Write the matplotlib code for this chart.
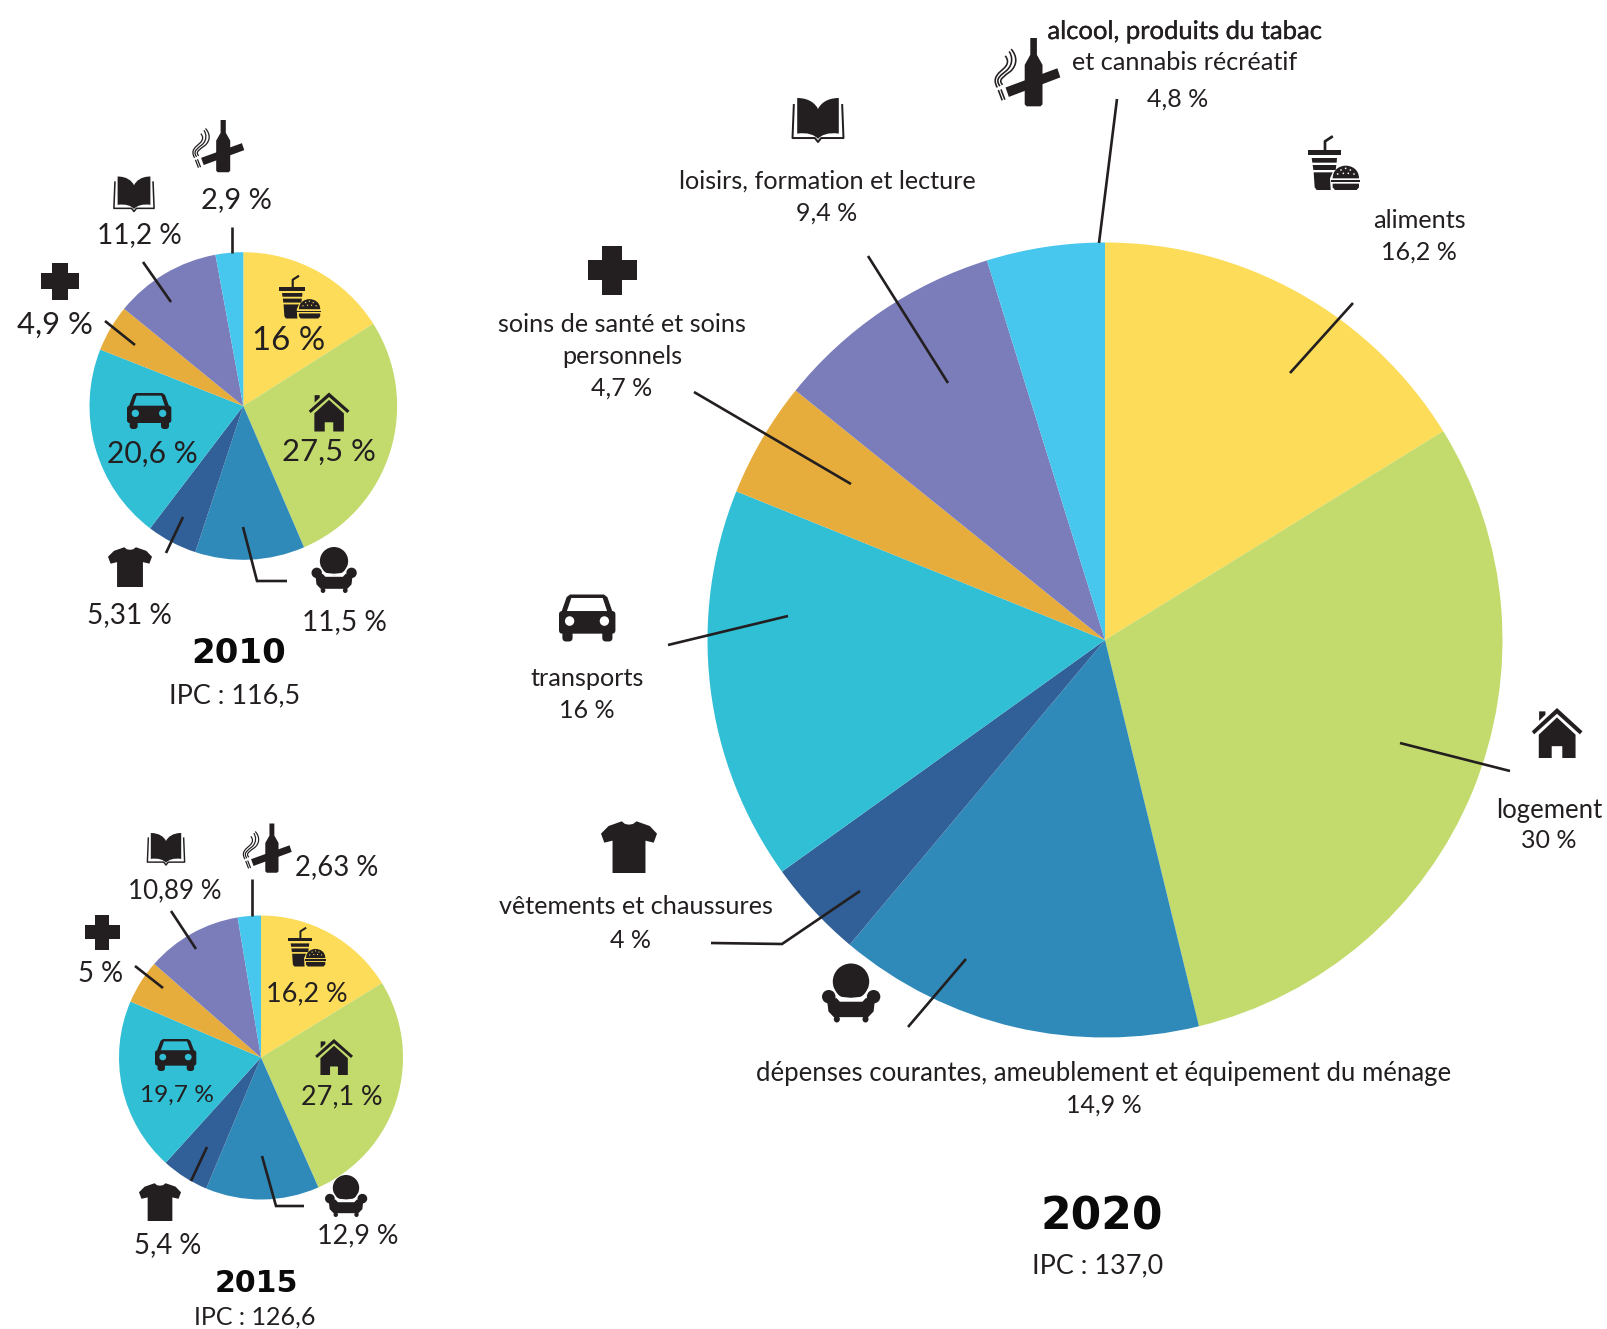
"""Budget shares of the Canadian CPI basket for 2010, 2015 and 2020, as three pies."""

import matplotlib
matplotlib.use("Agg")
import matplotlib.pyplot as plt
from matplotlib.patches import Ellipse, FancyBboxPatch, PathPatch, Polygon
from matplotlib.path import Path
import matplotlib.patheffects as pe

W, H = 1607, 1329
INK = "#231f20"
FONT = "Lato"

COLORS = ["#FCDC58", "#C2DB6C", "#2F8ABA", "#306097", "#31BFD5", "#E7AD3C", "#7B7DBA", "#47C6EE"]

VALUES_2010 = [16, 27.5, 11.5, 5.31, 20.6, 4.9, 11.2, 2.9]
VALUES_2015 = [16.2, 27.1, 12.9, 5.4, 19.7, 5, 10.89, 2.63]
VALUES_2020 = [16.2, 30, 14.9, 4, 16, 4.7, 9.4, 4.8]

IPC_2010 = "IPC : 116,5"
IPC_2015 = "IPC : 126,6"
IPC_2020 = "IPC : 137,0"

NAMES_2020 = [
    ["aliments"],
    ["logement"],
    ["dépenses courantes, ameublement et équipement du ménage"],
    ["vêtements et chaussures"],
    ["transports"],
    ["soins de santé et soins", "personnels"],
    ["loisirs, formation et lecture"],
    ["alcool, produits du tabac", "et cannabis récréatif"],
]


def pct(v):
    return f"{v:g} %".replace(".", ",")


def draw_pie(fig, cx, cy, r, values):
    ax = fig.add_axes([(cx - r) / W, 1 - (cy + r) / H, 2 * r / W, 2 * r / H])
    ax.pie(values, colors=COLORS, startangle=90, counterclock=False, radius=1,
           wedgeprops={"linewidth": 0})
    ax.set_xlim(-1, 1)
    ax.set_ylim(-1, 1)
    ax.set_aspect("auto")
    ax.axis("off")


def label(ax, x, y, s, px, **kw):
    kw.setdefault("color", INK)
    kw.setdefault("family", FONT)
    return ax.text(x, y, s, fontsize=px * 0.72, ha="center", va="center_baseline", **kw)


def year(ax, x, y, s, px):
    ax.text(x, y, s, fontsize=px * 0.72, ha="center", va="center_baseline",
            family="DejaVu Sans", fontweight="bold", color="#0a0a0a")


def leader(ax, xs, ys):
    ax.plot(xs, ys, color=INK, lw=1.9, solid_capstyle="butt", solid_joinstyle="miter", zorder=3)


def mapper(sx, sy, shw, shh, cx, cy, hw, hh):
    """Map icon drawing units onto the page box centred on cx, cy."""
    def m(pts):
        return [(cx + (x - sx) / shw * hw, cy + (y - sy) / shh * hh) for x, y in pts]
    return m


def poly(ax, pts, color=INK):
    ax.add_patch(Polygon(pts, closed=True, fc=color, ec="none", zorder=4))


def curve(ax, pts, codes, fc=INK, ec="none", lw=0):
    ax.add_patch(PathPatch(Path(pts, codes), fc=fc, ec=ec, lw=lw, zorder=4, capstyle="butt"))


def icon_cross(ax, cx, cy, hw, hh):
    a = 0.41
    m = mapper(0, 0, 1, 1, cx, cy, hw, hh)
    poly(ax, m([(-a, -1), (a, -1), (a, -a), (1, -a), (1, a), (a, a), (a, 1),
                (-a, 1), (-a, a), (-1, a), (-1, -a), (-a, -a)]))


def icon_shirt(ax, cx, cy, hw, hh):
    m = mapper(447, 200, 85, 78, cx, cy, hw, hh)
    poly(ax, m([(425, 123), (435, 131), (447, 133), (459, 131), (470, 123), (510, 137), (532, 160),
                (522, 187), (497, 181), (497, 278), (397, 278), (397, 181), (372, 187),
                (362, 160), (385, 137)]))


def icon_house(ax, cx, cy, hw, hh):
    m = mapper(231, 126, 77, 74, cx, cy, hw, hh)
    poly(ax, m([(155, 121), (231, 52), (308, 121), (300, 130), (231, 69), (162, 130)]))
    poly(ax, m([(177, 62), (196, 62), (196, 72), (177, 90)]))
    poly(ax, m([(176, 131), (231, 80), (287, 131), (287, 200), (247, 200), (247, 165),
                (215, 165), (215, 200), (176, 200)]))


def icon_car(ax, cx, cy, hw, hh, bg):
    m = mapper(176, 94, 66, 54, cx, cy, hw, hh)
    sx = hw / 66
    sy = hh / 54
    poly(ax, m([(136, 40), (216, 40), (224, 46), (238, 85), (114, 85), (128, 46)]))
    poly(ax, m([(139, 48), (213, 48), (224, 80), (128, 80)]), bg)
    (x0, y0), = m([(110, 78)])
    ax.add_patch(FancyBboxPatch((x0 + 3, y0 + 3), 133 * sx - 6, 52 * sy - 6,
                                boxstyle=f"round,pad=3,rounding_size={8 * sx:.1f}",
                                fc=INK, ec="none", zorder=4))
    for wx in (118, 212):
        (x0, y0), = m([(wx, 120)])
        ax.add_patch(FancyBboxPatch((x0 + 1, y0 + 1), 24 * sx - 2, 28 * sy - 2,
                                    boxstyle=f"round,pad=1,rounding_size={9 * sx:.1f}",
                                    fc=INK, ec="none", zorder=4))
    for lx in (135, 217):
        (x0, y0), = m([(lx, 101)])
        ax.add_patch(Ellipse((x0, y0), 22 * sx, 22 * sy, fc=bg, ec="none", zorder=5))


def icon_chair(ax, cx, cy, hw, hh, bg):
    m = mapper(1111, 640, 86, 88, cx, cy, hw, hh)
    sx = hw / 86
    sy = hh / 88
    (x0, y0), = m([(1111, 606)])
    ax.add_patch(Ellipse((x0, y0), 108 * sx, 108 * sy, fc=INK, ec="none", zorder=4))
    pts = m([(1060, 633), (1072, 654), (1111, 658), (1150, 654), (1162, 633)])
    ax.plot([p[0] for p in pts], [p[1] for p in pts], color=bg, lw=hw * 0.06, zorder=4.1)
    pts = m([(1040, 660), (1068, 655), (1078, 666), (1145, 666), (1155, 655), (1182, 660),
             (1178, 695), (1162, 712), (1060, 712), (1044, 695)])
    ax.add_patch(Polygon(pts, fc=INK, ec="none", zorder=4.2))
    for ax_x in (1045, 1178):
        (x0, y0), = m([(ax_x, 651)])
        ax.add_patch(Ellipse((x0, y0), 40 * sx, 40 * sy, fc=INK, ec="none", zorder=4.2))
    for fx in (1069, 1154):
        (x0, y0), = m([(fx, 718)])
        ax.add_patch(Ellipse((x0, y0), 18 * sx, 20 * sy, fc=INK, ec="none", zorder=4.2))


def icon_book(ax, cx, cy, hw, hh):
    m = mapper(0, 0, 1, 1, cx, cy, hw, hh)
    pts = m([(-0.8, -1), (-0.35, -1.0), (-0.1, -0.75), (0, -0.5),
             (0.1, -0.75), (0.35, -1.0), (0.8, -1),
             (0.8, 0.62),
             (0.4, 0.55), (0.12, 0.68), (0, 0.86),
             (-0.12, 0.68), (-0.4, 0.55), (-0.8, 0.62),
             (-0.8, -1)])
    codes = [Path.MOVETO, Path.CURVE4, Path.CURVE4, Path.CURVE4, Path.CURVE4, Path.CURVE4, Path.CURVE4,
             Path.LINETO, Path.CURVE4, Path.CURVE4, Path.CURVE4, Path.CURVE4, Path.CURVE4, Path.CURVE4,
             Path.CLOSEPOLY]
    curve(ax, pts, codes)
    line = m([(-0.93, -0.68), (-0.98, 0.82), (-0.12, 0.82), (0, 1), (0.12, 0.82), (0.98, 0.82), (0.93, -0.68)])
    ax.plot([p[0] for p in line], [p[1] for p in line], color=INK, lw=max(0.8, hw * 0.055), zorder=4)


def icon_meal(ax, cx, cy, hw, hh, bg):
    m = mapper(1122, 489, 78, 81, cx, cy, hw, hh)
    sx = hw / 78
    sy = hh / 81
    poly(ax, m([(1045, 450), (1142, 450), (1142, 466), (1045, 466)]))
    pts = m([(1095, 451), (1095, 424), (1115, 411)])
    ax.plot([p[0] for p in pts], [p[1] for p in pts], color=INK, lw=hw * 0.075, zorder=4)
    poly(ax, m([(1055, 474), (1131, 474), (1130, 488), (1057, 488)]))
    poly(ax, m([(1058, 495), (1129, 495), (1127, 510), (1060, 510)]))
    poly(ax, m([(1061, 517), (1118, 517), (1110, 535), (1112, 570), (1070, 570), (1064, 562)]))
    pts = m([(1118, 535), (1118, 508), (1140, 497), (1157, 497), (1175, 497), (1197, 508), (1197, 535), (1118, 535)])
    curve(ax, pts, [Path.MOVETO, Path.CURVE4, Path.CURVE4, Path.CURVE4, Path.CURVE4, Path.CURVE4, Path.CURVE4, Path.CLOSEPOLY])
    poly(ax, m([(1112, 540), (1200, 540), (1200, 546), (1112, 546)]))
    poly(ax, m([(1118, 551), (1197, 551), (1197, 562), (1190, 570), (1125, 570), (1118, 562)]))
    for dx, dy in ((1143, 510), (1157, 505), (1171, 510), (1133, 522), (1150, 520), (1165, 520), (1182, 522)):
        (x0, y0), = m([(dx, dy)])
        ax.add_patch(Ellipse((x0, y0), 5 * sx, 5 * sy, fc=bg, ec="none", zorder=5))


def icon_bottle(ax, cx, cy, hw, hh):
    m = mapper(200, 216, 100, 101, cx, cy, hw, hh)
    poly(ax, m([(210, 115), (230, 115), (230, 165), (247, 195), (247, 312), (241, 318),
                (199, 318), (193, 312), (193, 195), (210, 165)]))
    poly(ax, m([(135, 262), (292, 205), (301, 232), (145, 290)]))
    lw = max(0.5, hw * 0.035)
    for pts in ([(114, 272), (124, 298)], [(122, 270), (132, 296)]):
        p = m(pts)
        ax.plot([q[0] for q in p], [q[1] for q in p], color=INK, lw=lw, zorder=4)
    for pts in (
        [(110, 262), (92, 232), (116, 218), (130, 205), (146, 190), (142, 178), (134, 168)],
        [(118, 258), (100, 235), (124, 224), (140, 210), (158, 192), (156, 170), (146, 155)],
        [(126, 254), (110, 238), (132, 228), (150, 214), (172, 194), (170, 168), (152, 148)],
    ):
        p = m(pts)
        curve(ax, p, [Path.MOVETO] + [Path.CURVE4] * 6, fc="none", ec=INK, lw=lw)


fig = plt.figure(figsize=(W / 100, H / 100), dpi=100, facecolor="white")

draw_pie(fig, 243.3, 406, 153.8, VALUES_2010)
draw_pie(fig, 261, 1057.5, 142, VALUES_2015)
draw_pie(fig, 1105, 640, 397.5, VALUES_2020)

page = fig.add_axes([0, 0, 1, 1], zorder=5)
page.set_xlim(0, W)
page.set_ylim(H, 0)
page.axis("off")
page.patch.set_alpha(0)

# 2010
v = VALUES_2010
for x, y, val, px in [(289, 338, v[0], 33), (329, 449, v[1], 31), (344, 620, v[2], 28),
                      (129, 613, v[3], 28), (152, 451, v[4], 30), (55, 322, v[5], 31),
                      (139, 233, v[6], 28), (236, 198, v[7], 29)]:
    label(page, x, y, pct(val), px)
year(page, 239, 650, "2010", 34)
label(page, 235, 693, IPC_2010, 27)
leader(page, [232, 232], [227, 253])
leader(page, [143, 171], [262, 302])
leader(page, [105, 135], [321, 345])
leader(page, [166, 183], [553, 517])
leader(page, [243, 257, 287], [527, 581, 581])
icon_bottle(page, 218, 146, 26, 26)
icon_book(page, 134, 194, 20.5, 17.5)
icon_cross(page, 60, 281, 19, 18.5)
icon_meal(page, 300, 297, 21, 21.5, COLORS[0])
icon_house(page, 329, 412, 20.5, 19.5)
icon_car(page, 149, 411, 22, 18, COLORS[4])
icon_shirt(page, 130, 567, 22, 20)
icon_chair(page, 334, 570, 22.5, 23, "white")

# 2015
v = VALUES_2015
for x, y, val, px in [(307, 991, v[0], 27), (342, 1094, v[1], 27), (358, 1233, v[2], 27),
                      (168, 1243, v[3], 27.5), (177, 1093, v[4], 24.5), (101, 971, v[5], 27.5),
                      (175, 888, v[6], 26), (337, 865, v[7], 27.5)]:
    label(page, x, y, pct(val), px)
year(page, 256, 1281, "2015", 30)
label(page, 255, 1315, IPC_2015, 25)
leader(page, [252, 252], [879, 916])
leader(page, [171, 196], [911, 949])
leader(page, [135, 163], [966, 988])
leader(page, [191, 207], [1181, 1147])
leader(page, [262, 276, 304], [1156, 1206, 1206])
icon_bottle(page, 267, 848, 24.5, 24.5)
icon_book(page, 166, 849, 19, 16)
icon_cross(page, 102, 932, 17.5, 17.5)
icon_meal(page, 307, 947, 19, 19.5, COLORS[0])
icon_house(page, 334, 1057, 19, 18)
icon_car(page, 175.5, 1055, 20.5, 16, COLORS[4])
icon_shirt(page, 160, 1202, 21, 19)
icon_chair(page, 346, 1196, 21, 21, "white")

# 2020
v = VALUES_2020
n = NAMES_2020
TXT = 25.2
label(page, 1185, 29, n[7][0], TXT + 0.4, path_effects=[pe.withStroke(linewidth=0.25, foreground=INK)])
label(page, 1185, 60, n[7][1], TXT)
label(page, 1178, 97, pct(v[7]), 25)
label(page, 1419, 218, n[0][0], TXT)
label(page, 1419, 250, pct(v[0]), 25)
label(page, 827, 179, n[6][0], TXT)
label(page, 827, 211, pct(v[6]), 25)
label(page, 622, 323, n[5][0], TXT)
label(page, 622, 355, n[5][1], TXT)
label(page, 622, 386, pct(v[5]), 25)
label(page, 587, 677, n[4][0], TXT)
label(page, 587, 709, pct(v[4]), 25)
label(page, 1549, 808, n[1][0], 25.8)
label(page, 1549, 839, pct(v[1]), 25)
label(page, 636, 905, n[3][0], TXT)
label(page, 631, 939, pct(v[3]), 25)
label(page, 1104, 1071, n[2][0], 25.8)
label(page, 1104, 1103, pct(v[2]), 25)
year(page, 1102, 1213, "2020", 44)
label(page, 1098, 1263, IPC_2020, 27)
leader(page, [1117, 1099], [99, 243])
leader(page, [1353, 1290], [303, 373])
leader(page, [868, 948], [256, 383])
leader(page, [694, 851], [392, 484])
leader(page, [668, 788], [645, 616])
leader(page, [1510, 1400], [771, 743])
leader(page, [711, 782, 860], [943, 944, 891])
leader(page, [908, 966], [1027, 959])
icon_bottle(page, 1027, 72, 33, 34)
icon_meal(page, 1334, 163, 26, 27, "white")
icon_book(page, 818, 120, 26, 22)
icon_cross(page, 612, 270, 24.5, 24.5)
icon_car(page, 587, 618, 28, 23.5, "white")
icon_house(page, 1557, 733, 25.5, 25)
icon_shirt(page, 629, 847, 28, 26)
icon_chair(page, 851, 993, 29, 29.5, "white")

fig.savefig("out.png", dpi=100, facecolor="white")
plt.close(fig)
